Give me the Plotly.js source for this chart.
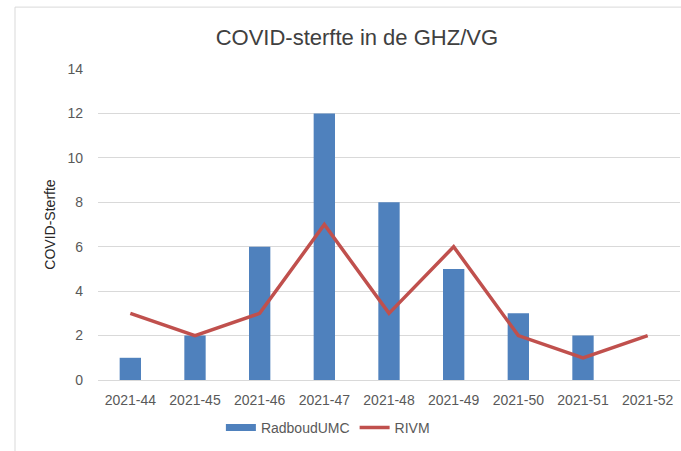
<!DOCTYPE html>
<html>
<head>
<meta charset="utf-8">
<script src="https://cdn.plot.ly/plotly-3.0.1.min.js"></script>
<style>
    html, body { margin: 0; padding: 0; background: white; }
    #chart { width: 681px; height: 451px; }
</style>
</head>
<body>
<div id="chart"></div>
<script>
const weeks = ['2021-44', '2021-45', '2021-46', '2021-47', '2021-48', '2021-49', '2021-50', '2021-51', '2021-52']
const radboud = [1, 2, 6, 12, 8, 5, 3, 2, null]
const rivm = [3, 2, 3, 7, 3, 6, 2, 1, 2]
const yTicks = [0, 2, 4, 6, 8, 10, 12, 14]

const blue = '#4f81bd'
const red = '#c0504d'
const grid = '#d9d9d9'
const tickGrey = '#595959'
const fnt = 'Liberation Sans, Arial, sans-serif'

const trace_bar = {
    x: weeks,
    y: radboud,
    type: 'bar',
    name: 'RadboudUMC',
    marker: { color: blue },
    showlegend: false,
}

// legend-only stand-in so the bar key is drawn as a wide flat block
const trace_bar_key = {
    x: [null],
    y: [null],
    type: 'scatter',
    mode: 'lines',
    name: 'RadboudUMC',
    line: { color: blue, width: 7 },
    hoverinfo: 'skip',
}

const trace_line = {
    x: weeks,
    y: rivm,
    type: 'scatter',
    mode: 'lines',
    name: 'RIVM',
    line: { color: red, width: 3.5 },
}

const layout = {
    width: 681,
    height: 451,
    margin: { l: 98, r: 1, t: 69, b: 71 },
    paper_bgcolor: 'white',
    plot_bgcolor: 'white',
    font: { family: fnt, color: tickGrey, size: 14 },
    title: {
        text: 'COVID-sterfte in de GHZ/VG',
        font: { family: fnt, size: 22, color: '#404040' },
        x: 0.524,
        xref: 'container',
        xanchor: 'center',
        y: 0.918,
        yref: 'container',
        yanchor: 'middle',
    },
    bargap: 0.67,
    xaxis: {
        type: 'category',
        range: [-0.5, 8.5],
        showgrid: false,
        showline: true,
        linecolor: grid,
        linewidth: 1,
        ticks: '',
        ticklabelstandoff: 7,
        tickfont: { size: 14, color: tickGrey },
        fixedrange: true,
    },
    yaxis: {
        range: [0, 14],
        tickvals: yTicks,
        showgrid: true,
        gridcolor: grid,
        gridwidth: 1,
        zeroline: false,
        showline: false,
        ticks: '',
        ticklabelstandoff: 14,
        tickfont: { size: 14, color: tickGrey },
        title: {
            text: 'COVID-Sterfte',
            font: { size: 14, color: '#262626' },
            standoff: 8,
        },
        fixedrange: true,
    },
    legend: {
        orientation: 'h',
        x: 0.395,
        xanchor: 'center',
        y: -0.154,
        yanchor: 'middle',
        font: { size: 14, color: tickGrey },
        traceorder: 'normal',
    },
    shapes: [
        {
            type: 'rect',
            xref: 'paper',
            yref: 'paper',
            x0: -0.1426,
            x1: 1.03,
            y0: -0.3,
            y1: 1.199,
            line: { color: grid, width: 1 },
            fillcolor: 'rgba(0,0,0,0)',
            layer: 'below',
        },
    ],
}

const config = { displayModeBar: false, staticPlot: true }

Plotly.newPlot('chart', [trace_bar, trace_bar_key, trace_line], layout, config)
</script>
</body>
</html>
